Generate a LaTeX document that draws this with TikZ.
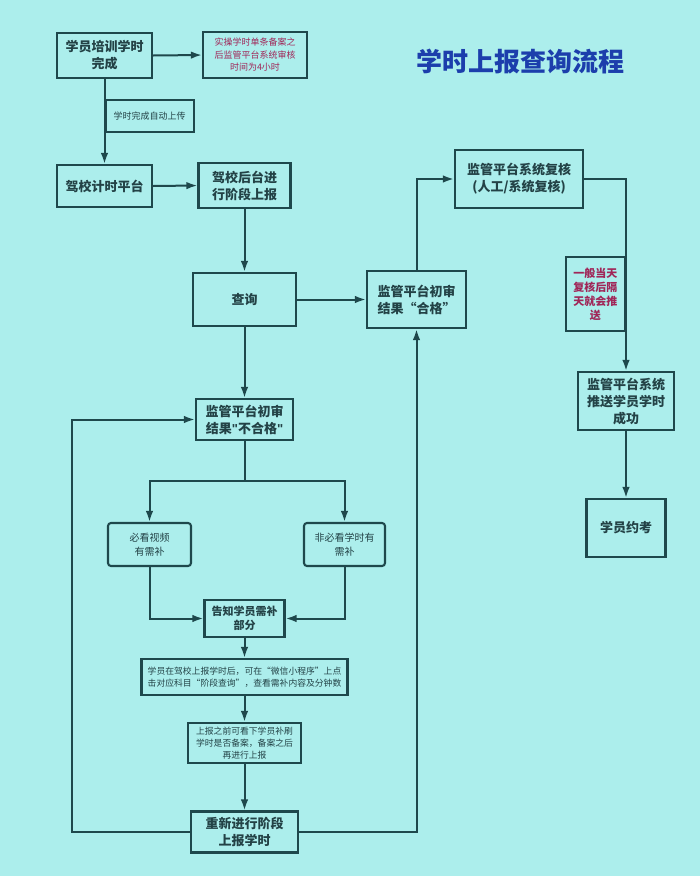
\documentclass[tikz,border=0pt]{standalone}
\usepackage{fontspec}
\setmainfont{Noto Sans CJK SC}
\newfontfamily\latinq{Liberation Sans}
\usetikzlibrary{arrows.meta}
\definecolor{bgc}{RGB}{172,238,236}
\definecolor{linec}{RGB}{30,72,76}
\definecolor{txtc}{RGB}{35,66,70}
\definecolor{notec}{RGB}{160,38,88}
\definecolor{titlec}{RGB}{28,62,172}
\tikzset{
  box/.style={draw=linec, line width=2.1pt, fill=bgc, align=center, text=txtc, inner sep=2pt,
              font=\fontsize{13}{17}\selectfont\bfseries},
  smallbox/.style={box, font=\fontsize{8.8}{12}\selectfont},
  notebox/.style={box, text=notec, font=\fontsize{9}{12.5}\selectfont},
  rbox/.style={box, rounded corners=3pt, font=\fontsize{10}{14}\selectfont\bfseries},
  conn/.style={draw=linec, line width=2pt},
  arr/.style={conn, -{Latex[length=11pt,width=7.5pt]}},
}
\begin{document}
\begin{tikzpicture}[x=1pt,y=-1pt]
\fill[bgc] (0,0) rectangle (700,876);
\useasboundingbox (0,0) rectangle (700,876);

\node[font=\fontsize{26}{30}\selectfont\bfseries, text=titlec] (T) at (520,62) {学时上报查询流程};

\node[box, minimum width=95, minimum height=45] (A) at (104.5,55.5) {学员培训学时\\完成};
\node[notebox, minimum width=104, minimum height=46] (B) at (255,55) {实操学时单条备案之\\后监管平台系统审核\\时间为4小时};
\node[box, minimum width=95, minimum height=42] (C) at (104.5,186) {驾校计时平台};
\node[box, minimum width=92, minimum height=45] (D) at (244.5,185.5) {驾校后台进\\行阶段上报};
\node[box, minimum width=103, minimum height=53] (E) at (244.5,299.5) {查询};
\node[box, minimum width=99, minimum height=57] (F) at (416.5,299.5) {监管平台初审\\结果“合格”};
\node[box, minimum width=128, minimum height=58] (G) at (519,179) {监管平台系统复核\\(人工/系统复核)};
\node[box, minimum width=96, minimum height=58] (H) at (626,401) {监管平台系统\\推送学员学时\\成功};
\node[box, minimum width=79, minimum height=58] (I) at (626,528) {学员约考};
\node[box, minimum width=97, minimum height=41] (J) at (244.5,419.5) {监管平台初审\\结果{\latinq\bfseries "}不合格{\latinq\bfseries "}};
\node[rbox, font=\fontsize{10}{14}\selectfont, minimum width=83, minimum height=43] (K1) at (149.5,544.5) {必看视频\\有需补};
\node[rbox, font=\fontsize{10}{14}\selectfont, minimum width=81, minimum height=43] (K2) at (344.5,544.5) {非必看学时有\\需补};
\node[box, font=\fontsize{11}{14}\selectfont\bfseries, minimum width=80, minimum height=37] (L) at (244.5,618.5) {告知学员需补\\部分};
\node[smallbox, minimum width=206, minimum height=36] (M) at (244.5,677) {学员在驾校上报学时后，可在“微信小程序”上点\\击对应科目“阶段查询”，查看需补内容及分钟数};
\node[smallbox, minimum width=113, minimum height=40] (N) at (244.5,743) {上报之前可看下学员补刷\\学时是否备案，备案之后\\再进行上报};
\node[box, minimum width=107, minimum height=41] (O) at (244.5,832) {重新进行阶段\\上报学时};

% connectors
\draw[arr] (A.east) -- (B.west);
\draw[arr] (A.south) -- (C.north);
\node[smallbox, font=\fontsize{9}{12}\selectfont, minimum width=88, minimum height=32, anchor=west] (LA) at (104.5,116) {学时完成自动上传};
\draw[arr] (C.east) -- (D.west);
\draw[arr] (D.south) -- (E.north);
\draw[arr] (E.east) -- (F.west);
\draw[arr] (F.north) |- (G.west);
\draw[arr] (G.east) -| (H.north);
\node[notebox, font=\fontsize{11}{14}\selectfont\bfseries, minimum width=59, minimum height=74, anchor=east] (LB) at (626,294) {一般当天\\复核后隔\\天就会推\\送};
\draw[arr] (H.south) -- (I.north);
\draw[arr] (E.south) -- (J.north);
\coordinate (S) at (244.5,481);
\draw[conn] (J.south) -- (S);
\draw[arr] (S) -| (K1.north);
\draw[arr] (S) -| (K2.north);
\draw[arr] (K1.south) |- (L.west);
\draw[arr] (K2.south) |- (L.east);
\draw[arr] (L.south) -- (M.north);
\draw[arr] (M.south) -- (N.north);
\draw[arr] (N.south) -- (O.north);
\coordinate (LL) at (72,832);
\draw[arr] (O.west) -- (LL) |- (J.west);
\draw[arr] (O.east) -| (F.south);
\end{tikzpicture}
\end{document}
